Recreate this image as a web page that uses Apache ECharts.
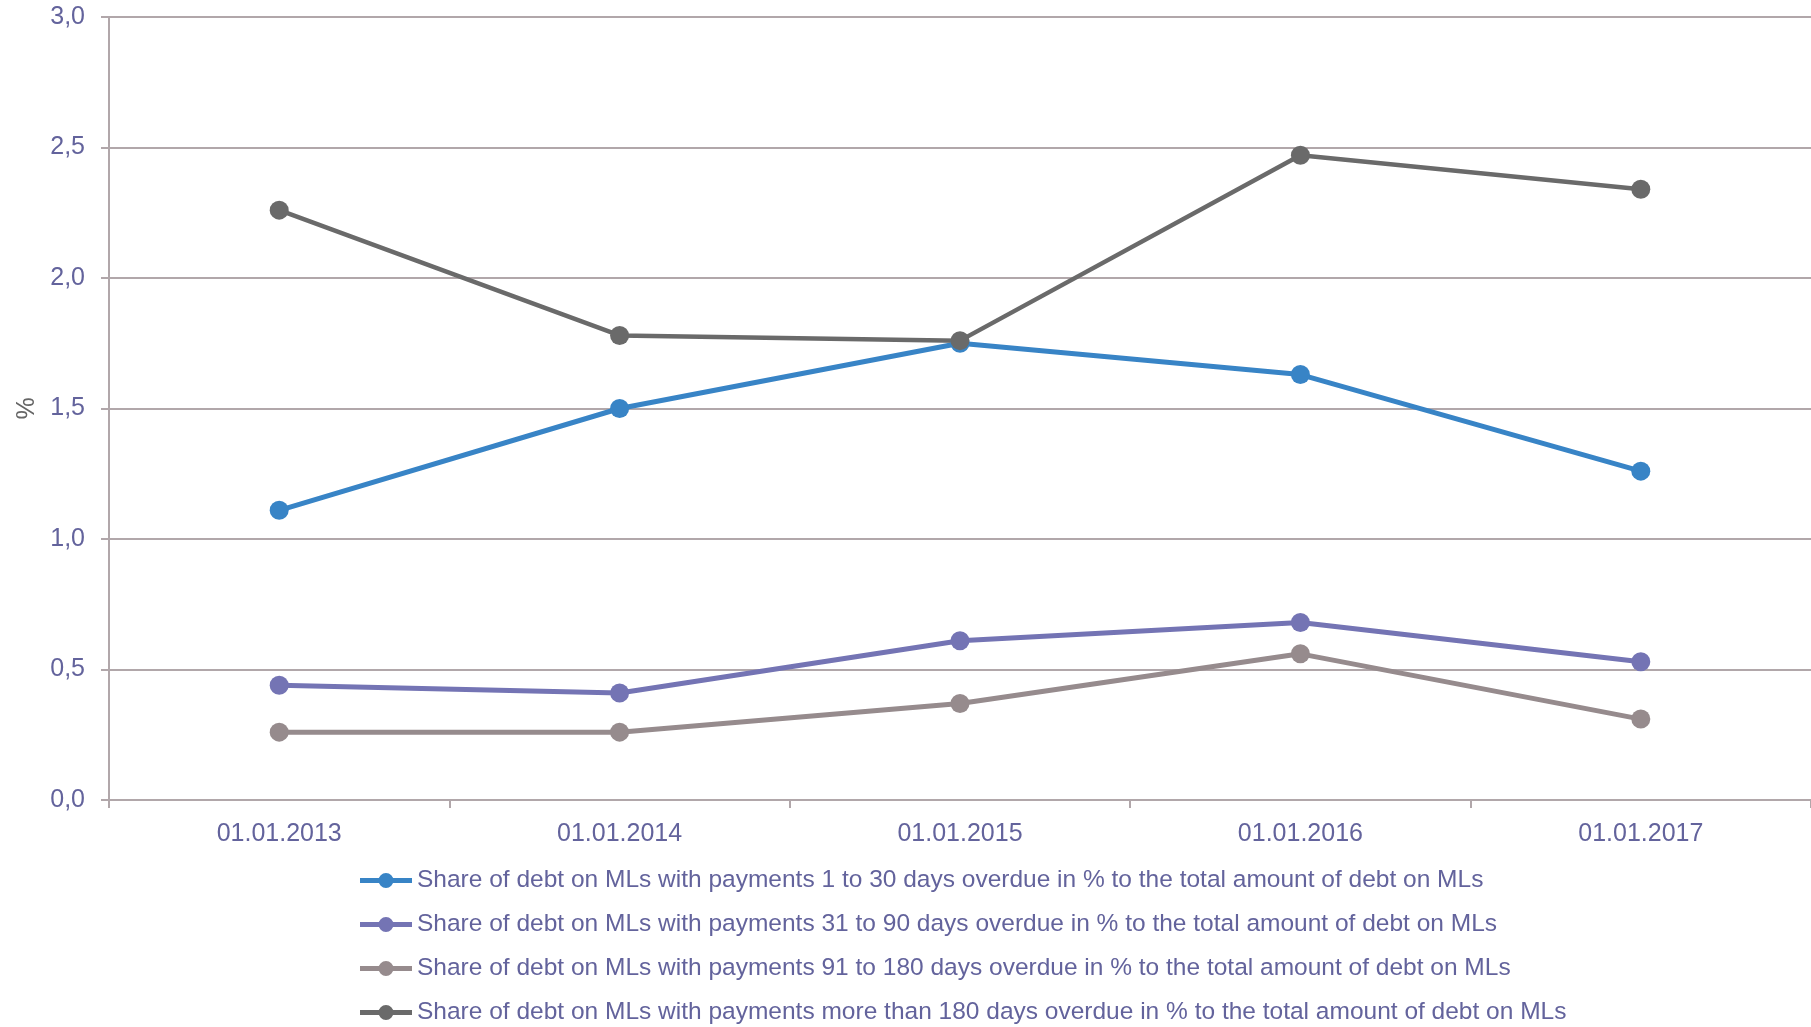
<!DOCTYPE html>
<html>
<head>
<meta charset="utf-8">
<title>Overdue debt on MLs</title>
<script src="https://cdn.jsdelivr.net/npm/echarts@6/dist/echarts.min.js"></script>
<style>
  html, body { margin: 0; padding: 0; background: #fff; }
  #chart { width: 1811px; height: 1027px; }
</style>
</head>
<body>
<div id="chart"></div>
<script>
const dates = ['01.01.2013', '01.01.2014', '01.01.2015', '01.01.2016', '01.01.2017']

const names = [
  'Share of debt on MLs with payments 1 to 30 days overdue in % to the total amount of debt on MLs',
  'Share of debt on MLs with payments 31 to 90 days overdue in % to the total amount of debt on MLs',
  'Share of debt on MLs with payments 91 to 180 days overdue in % to the total amount of debt on MLs',
  'Share of debt on MLs with payments more than 180 days overdue in % to the total amount of debt on MLs',
]

const overdue1to30 = [1.11, 1.50, 1.75, 1.63, 1.26]
const overdue31to90 = [0.44, 0.41, 0.61, 0.68, 0.53]
const overdue91to180 = [0.26, 0.26, 0.37, 0.56, 0.31]
const overdueOver180 = [2.26, 1.78, 1.76, 2.47, 2.34]

const colors = ['#3884c6', '#7474b4', '#968b8d', '#6a6a6a']
const textColor = '#63639c'
const gridColor = '#b1a7aa'
const font = '"Liberation Sans", Arial, sans-serif'

const chart = echarts.init(document.getElementById('chart'))

const makeSeries = (name, data, color, width) => ({
  name: name,
  type: 'line',
  data: data,
  symbol: 'circle',
  symbolSize: 19,
  color: color,
  lineStyle: { width: width, color: color },
  itemStyle: { color: color },
  emphasis: { disabled: true },
})

chart.setOption({
  animation: false,
  backgroundColor: '#ffffff',
  textStyle: { fontFamily: font },
  grid: {
    left: 109,
    top: 17,
    width: 1708,
    height: 783,
  },
  legend: {
    orient: 'vertical',
    left: 355,
    top: 863,
    height: 200,
    itemWidth: 52,
    itemHeight: 15,
    itemGap: 19,
    data: names.map((n) => ({
      name: n,
      icon: 'path://M0,7 L52,7 L52,12 L0,12 Z M26,2 A7.5,7.5 0 1 1 25.99,2 Z',
    })),
    textStyle: {
      fontSize: 24.5,
      lineHeight: 24,
      color: textColor,
      fontFamily: font,
    },
  },
  xAxis: {
    type: 'category',
    data: dates,
    boundaryGap: true,
    axisLine: { lineStyle: { color: gridColor, width: 2 } },
    axisTick: { show: true, length: 8, lineStyle: { color: gridColor, width: 2 } },
    axisLabel: {
      fontSize: 25,
      color: textColor,
      margin: 22,
      fontFamily: font,
    },
  },
  yAxis: {
    type: 'value',
    min: 0,
    max: 3,
    interval: 0.5,
    name: '%',
    nameLocation: 'middle',
    nameRotate: 90,
    nameGap: 68,
    nameTextStyle: { fontSize: 25, color: '#666666', fontFamily: font },
    axisLine: { show: true, lineStyle: { color: gridColor, width: 2 } },
    axisTick: { show: true, length: 8, lineStyle: { color: gridColor, width: 2 } },
    axisLabel: {
      fontSize: 25,
      color: textColor,
      margin: 24,
      fontFamily: font,
      formatter: (v) => v.toFixed(1).replace('.', ','),
    },
    splitLine: { lineStyle: { color: gridColor, width: 2 } },
  },
  series: [
    makeSeries(names[0], overdue1to30, colors[0], 5),
    makeSeries(names[1], overdue31to90, colors[1], 5),
    makeSeries(names[2], overdue91to180, colors[2], 5),
    makeSeries(names[3], overdueOver180, colors[3], 4.5),
  ],
})
</script>
</body>
</html>
